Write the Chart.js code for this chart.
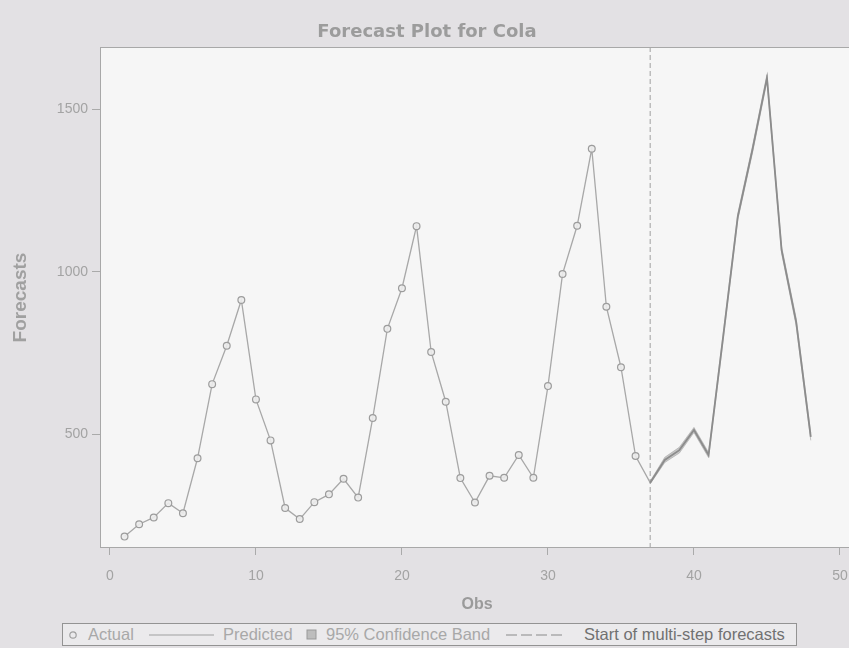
<!DOCTYPE html>
<html>
<head>
<meta charset="utf-8">
<title>Forecast Plot for Cola</title>
<script src="https://cdn.jsdelivr.net/npm/chart.js@4.4.1/dist/chart.umd.min.js"></script>
<style>
  html, body { margin: 0; padding: 0; background: #e3e1e4; }
  #wrap { position: relative; width: 849px; height: 648px; overflow: hidden; background: #e3e1e4; }
  #myChart { position: absolute; left: 0; top: 0; }
  .legend { position: absolute; left: 62px; top: 623px; width: 733px; height: 21px; border: 1px solid #939393; background: #ebeaec;
            font-family: 'Liberation Sans', Arial, sans-serif; font-size: 16.5px; color: #a8a8a8; }
  .legend .item { position: absolute; top: 1px; white-space: nowrap; line-height: 19px; }
  .legend svg { position: absolute; top: 0; }
</style>
</head>
<body>
<div id="wrap">
  <canvas id="myChart" width="861" height="648"></canvas>
  <div class="legend">
    <svg style="left:5px" width="10" height="21"><circle cx="5" cy="11" r="3.2" fill="none" stroke="#a0a0a0" stroke-width="1.2"/></svg>
    <span class="item" style="left:25px">Actual</span>
    <svg style="left:86px" width="65" height="21"><line x1="0" y1="11" x2="65" y2="11" stroke="#a0a0a0" stroke-width="1.2"/></svg>
    <span class="item" style="left:160px">Predicted</span>
    <svg style="left:243px" width="11" height="21"><rect x="1" y="6" width="9" height="9" fill="#bdbdbd" stroke="#999" stroke-width="1"/></svg>
    <span class="item" style="left:263px">95% Confidence Band</span>
    <svg style="left:443px" width="58" height="21"><line x1="0" y1="11" x2="58" y2="11" stroke="#8a8a8a" stroke-width="1.2" stroke-dasharray="11,4"/></svg>
    <span class="item" style="left:521px; color:#717171">Start of multi-step forecasts</span>
  </div>
</div>
<script>
// observations 1..48, actuals known for 1..36
const obs = [1, 2, 3, 4, 5, 6, 7, 8, 9, 10, 11, 12, 13, 14, 15, 16, 17, 18, 19, 20, 21, 22, 23, 24,
             25, 26, 27, 28, 29, 30, 31, 32, 33, 34, 35, 36, 37, 38, 39, 40, 41, 42, 43, 44, 45, 46, 47, 48];
const actual = [185, 223, 244, 288, 257, 426, 654, 772, 913, 607, 481, 273, 239, 291, 315, 363, 305, 550,
                824, 949, 1140, 753, 600, 365, 290, 372, 366, 436, 366, 648, 993, 1141, 1378, 892, 706, 433];
const predicted = [185, 223, 244, 288, 257, 426, 654, 772, 913, 607, 481, 273, 239, 291, 315, 363, 305, 550,
                   824, 949, 1140, 753, 600, 365, 290, 372, 366, 436, 366, 648, 993, 1141, 1378, 892, 706, 433,
                   351, 421, 451, 513, 436, 800, 1169, 1374, 1596, 1067, 845, 492];
const bandObs = [37, 38, 39, 40, 41, 42, 43, 44, 45, 46, 47, 48];
const bandUpper = [355, 429, 460, 521, 444, 809, 1178, 1384, 1606, 1077, 856, 503];
const bandLower = [347, 413, 442, 505, 428, 791, 1160, 1364, 1586, 1057, 834, 481];
const forecastStart = 37;
const xTicks = [0, 10, 20, 30, 40, 50];
const yTicks = [500, 1000, 1500];

const X_MIN = -0.68, X_MAX = 50.96, Y_MIN = 150, Y_MAX = 1691;

const toPoints = (xs, ys) => ys.map((y, i) => ({ x: xs[i], y: y }));

const gray = '#a3a3a3';
const fontFamily = "'Liberation Sans', Arial, sans-serif";

// whitish plot background and frame
const plotFrame = {
  id: 'plotFrame',
  beforeDatasetsDraw(chart) {
    const { ctx, chartArea: a } = chart;
    ctx.save();
    ctx.fillStyle = '#f6f6f6';
    ctx.fillRect(a.left, a.top, a.right - a.left, a.bottom - a.top);
    ctx.restore();
  },
  afterDraw(chart) {
    const { ctx, chartArea: a } = chart;
    ctx.save();
    ctx.strokeStyle = '#a8a8a8';
    ctx.lineWidth = 1;
    ctx.strokeRect(a.left + 0.5, a.top + 0.5, a.right - a.left - 1, a.bottom - a.top - 1);
    ctx.restore();
  }
};

const data = {
  datasets: [
    {
      label: 'Actual',
      data: toPoints(obs, actual),
      showLine: false,
      pointStyle: 'circle',
      pointRadius: 3.4,
      pointBorderWidth: 1.2,
      pointBorderColor: '#9c9c9c',
      pointBackgroundColor: 'rgba(236,236,236,0.9)',
      order: 0
    },
    {
      label: 'Predicted',
      data: toPoints(obs, predicted),
      borderColor: '#a8a8a8',
      borderWidth: 1.3,
      pointRadius: 0,
      segment: {
        borderColor: c => c.p0.parsed.x >= forecastStart ? '#8c8c8c' : undefined,
        borderWidth: c => c.p0.parsed.x >= forecastStart ? 1.8 : undefined
      },
      order: 1
    },
    {
      label: 'Start of multi-step forecasts',
      data: [{ x: forecastStart, y: Y_MIN }, { x: forecastStart, y: Y_MAX }],
      borderColor: '#a0a0a0',
      borderWidth: 1,
      borderDash: [5, 3],
      pointRadius: 0,
      order: 2
    },
    {
      label: '95% Confidence Band',
      data: toPoints(bandObs, bandUpper),
      borderColor: 'rgba(150,150,150,0.6)',
      borderWidth: 0.8,
      backgroundColor: 'rgba(160,160,160,0.55)',
      pointRadius: 0,
      fill: '+1',
      order: 3
    },
    {
      label: 'lower',
      data: toPoints(bandObs, bandLower),
      borderColor: 'rgba(150,150,150,0.6)',
      borderWidth: 0.8,
      pointRadius: 0,
      fill: false,
      order: 4
    }
  ]
};

const config = {
  type: 'line',
  data: data,
  options: {
    responsive: false,
    animation: false,
    layout: { padding: { left: 0, right: 7, top: 0, bottom: 0 } },
    plugins: {
      legend: { display: false },
      tooltip: { enabled: false },
      title: {
        display: true,
        text: 'Forecast Plot for Cola',
        color: '#9c9c9c',
        font: { family: "'DejaVu Sans', sans-serif", size: 18, weight: 'bold' },
        padding: { top: 22, bottom: 3.4 }
      }
    },
    scales: {
      x: {
        type: 'linear',
        min: X_MIN,
        max: X_MAX,
        afterFit: s => { s.height = 100; s.paddingLeft = 0; s.paddingRight = 0; },
        afterBuildTicks: s => { s.ticks = xTicks.map(v => ({ value: v })); },
        grid: { drawOnChartArea: false, tickLength: 7, tickColor: '#aaa' },
        border: { display: false },
        ticks: { color: gray, padding: 13, maxRotation: 0, font: { family: fontFamily, size: 14 } },
        title: {
          display: true,
          text: 'Obs',
          color: '#9a9a9a',
          font: { family: fontFamily, size: 16, weight: 'bold' },
          padding: { top: 0, bottom: 34 }
        }
      },
      y: {
        type: 'linear',
        min: Y_MIN,
        max: Y_MAX,
        afterFit: s => { s.width = 100; },
        afterBuildTicks: s => { s.ticks = yTicks.map(v => ({ value: v })); },
        grid: { drawOnChartArea: false, tickLength: 8, tickColor: '#aaa' },
        border: { display: false },
        ticks: { color: gray, padding: 4, font: { family: fontFamily, size: 14 }, callback: v => String(v) },
        title: {
          display: true,
          text: 'Forecasts',
          color: '#a0a0a0',
          font: { family: fontFamily, size: 19, weight: 'bold' },
          padding: { top: 9, bottom: 0 }
        }
      }
    }
  },
  plugins: [plotFrame]
};

const ctx = document.getElementById('myChart').getContext('2d');
const myChart = new Chart(ctx, config);
</script>
</body>
</html>
